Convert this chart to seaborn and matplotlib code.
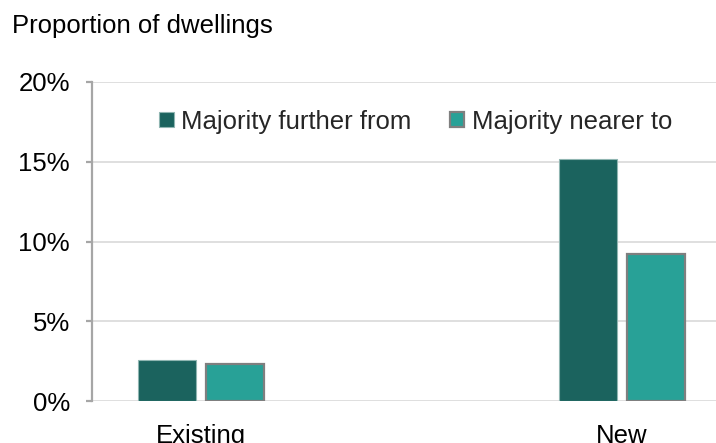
import matplotlib
matplotlib.use("Agg")
import matplotlib.pyplot as plt
import seaborn as sns
import pandas as pd
from matplotlib.patches import Patch
from matplotlib.ticker import FuncFormatter

# Share of dwellings by stock type and where the majority of services sit
categories = ["Existing", "New"]
series_names = ["Majority further from", "Majority nearer to"]
further_from = [2.6, 15.2]
nearer_to = [2.3, 9.2]
y_ticks = [0, 5, 10, 15, 20]

colors = ["#1b635e", "#28a197"]
edges = ["#8fb5b1", "#7f7f7f"]
edge_widths = [0.8, 1.6]

df = pd.DataFrame({
    "Dwelling": categories * 2,
    "Group": [series_names[0]] * 2 + [series_names[1]] * 2,
    "Value": further_from + nearer_to,
})

sns.set_style("white")
plt.rcParams["font.family"] = ["Liberation Sans", "DejaVu Sans"]
FS = 18.5

fig = plt.figure(figsize=(7.16, 4.43), dpi=100)
ax = fig.add_axes([0.1285, 0.0948, 0.8715, 0.7201])

sns.barplot(data=df, x="Dwelling", y="Value", hue="Group",
            order=categories, hue_order=series_names,
            palette=colors, saturation=1, width=0.323, gap=0.147,
            ax=ax, legend=False)

# Colour each bar's outline by its series
for container, ec, lw in zip(ax.containers, edges, edge_widths):
    for bar in container:
        bar.set_edgecolor(ec)
        bar.set_linewidth(lw)

ax.set_xlim(-0.259, 1.223)
ax.set_ylim(0, 20)
ax.set_yticks(y_ticks)
ax.yaxis.set_major_formatter(FuncFormatter(lambda v, _: f"{v:.0f}%"))
ax.set_xlabel("")
ax.set_ylabel("")

ax.grid(axis="y", color="#d9d9d9", linewidth=1.2)
ax.set_axisbelow(True)
for side in ["top", "right", "bottom"]:
    ax.spines[side].set_visible(False)
ax.spines["left"].set_color("#a6a6a6")
ax.spines["left"].set_linewidth(1.6)

ax.tick_params(axis="y", which="major", left=True, length=4.3, width=1.6,
               color="#a6a6a6", labelsize=FS, pad=11.5, labelcolor="#000000")
ax.tick_params(axis="x", bottom=False, labelsize=FS, pad=13,
               labelcolor="#000000")

handles = [Patch(facecolor=c, edgecolor=e, linewidth=lw)
           for c, e, lw in zip(colors, edges, edge_widths)]
ax.legend(handles, series_names, loc="center", bbox_to_anchor=(0.519, 0.876),
          ncol=2, frameon=False, fontsize=FS, handlelength=0.55,
          handleheight=0.55, handletextpad=0.3, columnspacing=1.5,
          borderpad=0, borderaxespad=0)

fig.text(0.017, 0.9266, "Proportion of dwellings", fontsize=FS,
         ha="left", va="baseline", color="#000000")

fig.savefig("out.png", dpi=100)
